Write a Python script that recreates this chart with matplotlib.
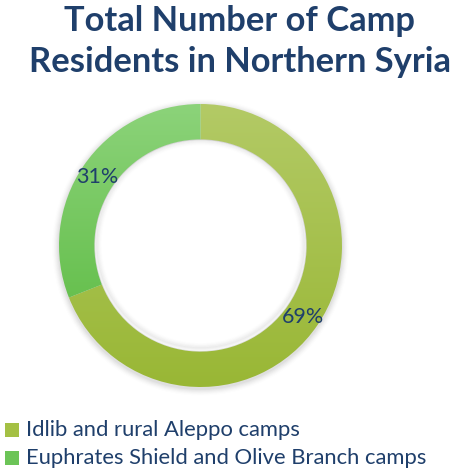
import numpy as np
import matplotlib.pyplot as plt
from matplotlib.colors import LinearSegmentedColormap

# data
categories = ['Idlib and rural Aleppo camps', 'Euphrates Shield and Olive Branch camps']
shares = [69, 31]
labels = ['69%', '31%']
# (top, bottom) colours of the vertical gradient for each slice
grad_colors = [('#b3ca66', '#99b735'), ('#8cd37a', '#57b83c')]
legend_colors = ['#a4c044', '#6cc457']

navy = '#1f3f6b'
plt.rcParams['font.family'] = ['Lato', 'DejaVu Sans']

fig = plt.figure(figsize=(4.52, 4.73), dpi=100)
W, H = 452, 473

# donut axes: centre (200.5, 245.5) px, outer radius 141.5 px
cx, cy, r = 200.5, 245.5, 141.5
pad = 1.08
ax = fig.add_axes([(cx - r * pad) / W, (H - cy - r * pad) / H,
                   2 * r * pad / W, 2 * r * pad / H])
ax.set_xlim(-pad, pad)
ax.set_ylim(-pad, pad)
ax.set_aspect('equal')
ax.axis('off')

ring_w = 0.25

# soft shadow behind the ring
for i, a in enumerate(np.linspace(0.05, 0.012, 6)):
    off = 0.008 * (i + 1)
    ax.add_patch(plt.Circle((0, -0.012), 1 + off, color='#555555', alpha=a, lw=0, zorder=0))
ax.add_patch(plt.Circle((0, 0), 1 - ring_w - 0.005, color='white', lw=0, zorder=0.5))
for i, a in enumerate(np.linspace(0.05, 0.01, 5)):
    off = 0.008 * (i + 1)
    ax.add_patch(plt.Circle((0, 0.01), 1 - ring_w - off, fill=False, ec='#666666',
                            lw=2.5, alpha=a, zorder=0.6))
ax.add_patch(plt.Circle((0, 0.01), 1 - ring_w - 0.05, color='white', lw=0, zorder=0.7))

wedges, _ = ax.pie(shares, startangle=90, counterclock=False, radius=1,
                   wedgeprops=dict(width=ring_w, lw=0), frame=False)
ax.set_xlim(-pad, pad)
ax.set_ylim(-pad, pad)

grad = np.linspace(0, 1, 256).reshape(-1, 1)
for w, (top, bot) in zip(wedges, grad_colors):
    w.set_facecolor('none')
    cmap = LinearSegmentedColormap.from_list('g', [top, bot])
    im = ax.imshow(grad, cmap=cmap, extent=[-1, 1, -1, 1], origin='upper',
                   aspect='auto', zorder=2)
    im.set_clip_path(w)

# percentage labels
ax.text((97 - cx) / r, (cy - 177) / r, labels[1], fontsize=15.5, color=navy,
        ha='center', va='center', zorder=3)
ax.text((303 - cx) / r, (cy - 317) / r, labels[0], fontsize=15.5, color=navy,
        ha='center', va='center', zorder=3)

# title
fig.text(240 / W, 1 - 21 / H, 'Total Number of Camp', fontsize=24.8, fontweight='bold',
         color=navy, ha='center', va='center')
fig.text(240 / W, 1 - 62 / H, 'Residents in Northern Syria', fontsize=24.8, fontweight='bold',
         color=navy, ha='center', va='center')

# legend
for i, (name, col) in enumerate(zip(categories, legend_colors)):
    y = 430 + i * 28
    fig.patches.append(plt.Rectangle((5 / W, 1 - (y + 7) / H), 14 / W, 14 / H,
                                     transform=fig.transFigure, color=col, lw=0))
    fig.text(26 / W, 1 - y / H, name, fontsize=15.8, color=navy, ha='left', va='center')

fig.savefig('out.png', dpi=100)
